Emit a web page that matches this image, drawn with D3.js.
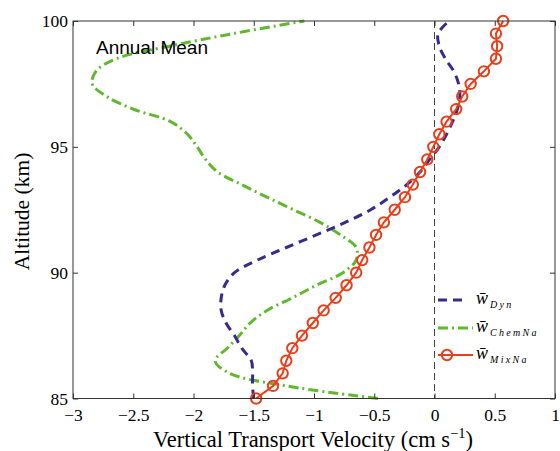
<!DOCTYPE html>
<html><head><meta charset="utf-8">
<script src="https://cdn.jsdelivr.net/npm/d3@7"></script>
<style>body{margin:0;background:#fff}</style>
</head><body>
<script>
const altitudes = [85,85.5,86,86.5,87,87.5,88,88.5,89,89.5,90,90.5,91,91.5,92,92.5,93,93.5,94,94.5,95,95.5,96,96.5,97,97.5,98,98.5,99,99.5,100];
const wDyn = [-1.50,-1.51,-1.51,-1.52,-1.60,-1.66,-1.73,-1.77,-1.77,-1.74,-1.66,-1.47,-1.23,-0.98,-0.74,-0.53,-0.37,-0.23,-0.12,-0.04,0.04,0.10,0.15,0.19,0.21,0.20,0.16,0.09,0.04,0.03,0.12];
const wChem = [-0.47,-1.23,-1.70,-1.82,-1.72,-1.62,-1.53,-1.39,-1.18,-0.98,-0.76,-0.65,-0.65,-0.78,-0.95,-1.17,-1.39,-1.60,-1.80,-1.90,-1.97,-2.05,-2.19,-2.50,-2.72,-2.84,-2.81,-2.64,-2.20,-1.67,-1.08];
const wMix = [-1.48,-1.34,-1.26,-1.23,-1.18,-1.10,-1.01,-0.92,-0.82,-0.73,-0.65,-0.60,-0.54,-0.485,-0.42,-0.33,-0.245,-0.18,-0.12,-0.06,-0.01,0.04,0.10,0.18,0.23,0.30,0.41,0.51,0.52,0.51,0.57];
const xTicks = [-3,-2.5,-2,-1.5,-1,-0.5,0,0.5,1];
const yTicks = [85,90,95,100];
const legendLabels = ["Dyn","ChemNa","MixNa"];

const W=560,H=451;
const svg=d3.select("body").append("svg").attr("width",W).attr("height",H);
const L=73,R=555,T=21,B=398.5;
const x=d3.scaleLinear().domain([-3,1]).range([L,R]);
const y=d3.scaleLinear().domain([85,100]).range([B,T]);
const fmt=d=>(d<0?"\u2212":"")+Math.abs(d);
const serif="'Liberation Serif','Times New Roman',Times,serif";

const axisCol="#333";
const cBlue="#3a2a8c", cGreen="#5fb82e", cRed="#e8401c";
const dashBlue="9,6", dashGreen="10,4,2,4";

svg.append("line").attr("x1",x(0)).attr("x2",x(0)).attr("y1",T).attr("y2",B)
  .attr("stroke","#444").attr("stroke-width",1).attr("stroke-dasharray","7,4");

const line=(arr)=>d3.line().x((d,i)=>x(arr[i])).y(d=>y(d)).curve(d3.curveCatmullRom)(altitudes);

svg.append("path").attr("d",line(wChem)).attr("fill","none").attr("stroke",cGreen)
  .attr("stroke-width",3).attr("stroke-dasharray",dashGreen);
svg.append("path").attr("d",line(wDyn)).attr("fill","none").attr("stroke",cBlue)
  .attr("stroke-width",3).attr("stroke-dasharray",dashBlue);
svg.append("path").attr("d",d3.line().x((d,i)=>x(wMix[i])).y(d=>y(d))(altitudes)).attr("fill","none").attr("stroke",cRed)
  .attr("stroke-width",2);
svg.append("g").selectAll("circle").data(altitudes).join("circle")
  .attr("cx",(d,i)=>x(wMix[i])).attr("cy",d=>y(d)).attr("r",5.2)
  .attr("fill","none").attr("stroke",cRed).attr("stroke-width",2);

svg.append("rect").attr("x",L).attr("y",T).attr("width",R-L).attr("height",B-T)
  .attr("fill","none").attr("stroke",axisCol).attr("stroke-width",1);
const gx=svg.append("g").attr("transform",`translate(0,${B})`)
  .call(d3.axisBottom(x).tickValues(xTicks).tickFormat(fmt).tickSizeInner(-5).tickSizeOuter(0).tickPadding(10));
const gxt=svg.append("g").attr("transform",`translate(0,${T})`)
  .call(d3.axisTop(x).tickValues(xTicks).tickFormat("").tickSizeInner(-5).tickSizeOuter(0));
const gy=svg.append("g").attr("transform",`translate(${L},0)`)
  .call(d3.axisLeft(y).tickValues(yTicks).tickFormat(d3.format("d")).tickSizeInner(-5).tickSizeOuter(0).tickPadding(5));
const gyr=svg.append("g").attr("transform",`translate(${R},0)`)
  .call(d3.axisRight(y).tickValues(yTicks).tickFormat("").tickSizeInner(-5).tickSizeOuter(0));
[gx,gxt,gy,gyr].forEach(g=>{g.select(".domain").remove();g.selectAll("line").attr("stroke",axisCol);
  g.attr("font-family",serif).attr("font-size",17.5);
  g.selectAll("text").attr("fill","#000");});
gx.selectAll("text").attr("dy","0.71em");

svg.append("text").attr("x",313).attr("y",447).attr("text-anchor","middle")
  .attr("font-family",serif).attr("font-size",22.5).attr("fill","#000")
  .html('Vertical Transport Velocity (cm s<tspan dy="-9" font-size="14.5">\u22121</tspan><tspan dy="9">)</tspan>');
svg.append("text").attr("transform",`translate(29,211.5) rotate(-90)`).attr("text-anchor","middle")
  .attr("font-family",serif).attr("font-size",21.5).attr("fill","#000").text("Altitude (km)");

svg.append("text").attr("x",96).attr("y",54).attr("font-family","'Liberation Sans',Arial,sans-serif")
  .attr("font-size",19).attr("fill","#000").text("Annual Mean");

// legend
const leg=[{c:cBlue,dash:dashBlue,w:3,m:false,x2:466},{c:cGreen,dash:dashGreen,w:3,m:false,x2:473},{c:cRed,dash:null,w:2,m:true,x2:473}];
const ly=[300,328,355];
leg.forEach((s,i)=>{
  const g=svg.append("g");
  g.append("line").attr("x1",438).attr("x2",s.x2).attr("y1",ly[i]).attr("y2",ly[i])
   .attr("stroke",s.c).attr("stroke-width",s.w).attr("stroke-dasharray",s.dash);
  if(s.m) g.append("circle").attr("cx",447).attr("cy",ly[i]).attr("r",5.2).attr("fill","none").attr("stroke",s.c).attr("stroke-width",2);
  const t=g.append("text").attr("x",476).attr("y",ly[i]+4).attr("font-family",serif).attr("fill","#000");
  t.append("tspan").attr("font-size",18).attr("font-style","italic").text("w\u0304");
  t.append("tspan").attr("font-size",10).attr("font-style","italic").attr("dy",4).attr("dx",2)
   .attr("letter-spacing",2.3).text(legendLabels[i]);
});
</script>
</body></html>
